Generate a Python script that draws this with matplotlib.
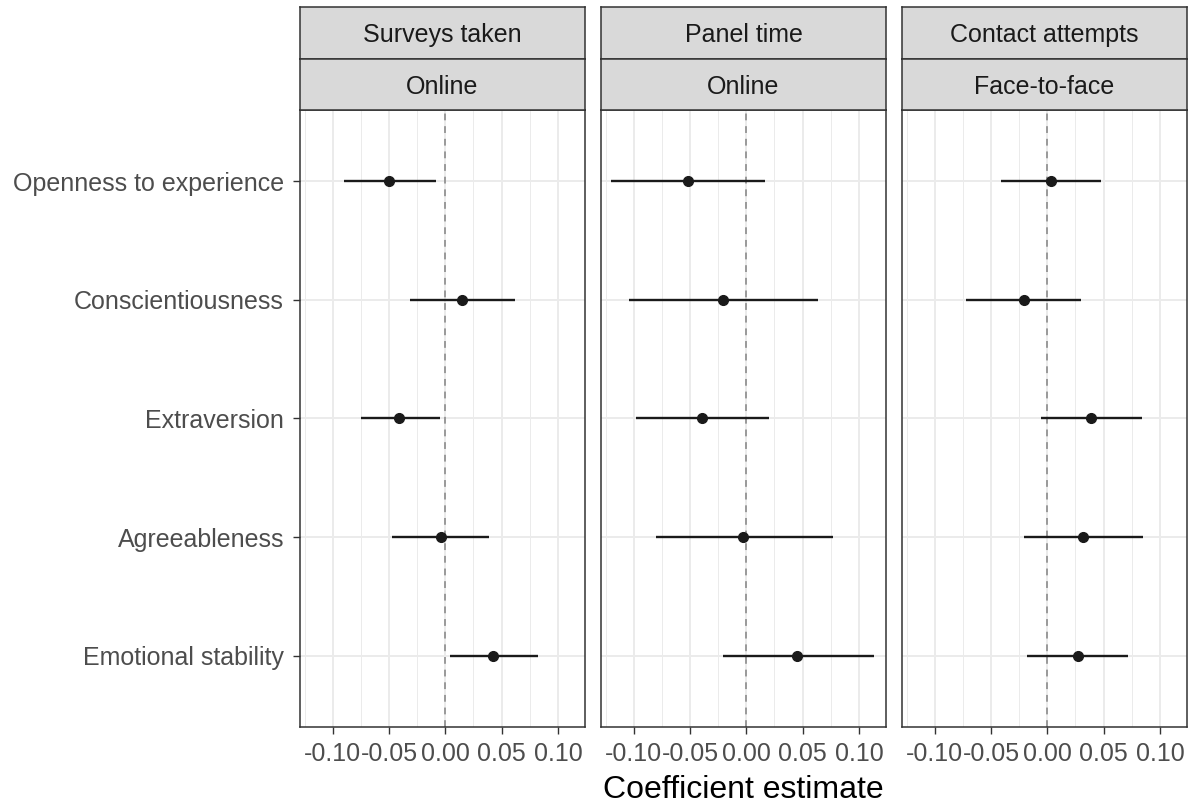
import matplotlib
matplotlib.use("Agg")
import matplotlib.pyplot as plt
from matplotlib.ticker import FixedLocator
from matplotlib.transforms import offset_copy

plt.rcParams["font.family"] = ["Liberation Sans", "DejaVu Sans"]

traits = ["Openness to experience", "Conscientiousness", "Extraversion",
          "Agreeableness", "Emotional stability"]

facet_top = ["Surveys taken", "Panel time", "Contact attempts"]
facet_bottom = ["Online", "Online", "Face-to-face"]

# estimates and 95% CI per panel, in trait order
est_surveys = [-0.050, 0.015, -0.041, -0.004, 0.042]
lo_surveys = [-0.090, -0.031, -0.075, -0.047, 0.004]
hi_surveys = [-0.008, 0.062, -0.005, 0.039, 0.082]

est_panel = [-0.052, -0.021, -0.039, -0.003, 0.045]
lo_panel = [-0.120, -0.104, -0.098, -0.080, -0.021]
hi_panel = [0.017, 0.064, 0.020, 0.077, 0.113]

est_contact = [0.003, -0.021, 0.039, 0.032, 0.027]
lo_contact = [-0.041, -0.072, -0.006, -0.021, -0.018]
hi_contact = [0.048, 0.030, 0.084, 0.085, 0.072]

estimates = [est_surveys, est_panel, est_contact]
lows = [lo_surveys, lo_panel, lo_contact]
highs = [hi_surveys, hi_panel, hi_contact]

xticks = [-0.10, -0.05, 0.00, 0.05, 0.10]
xlabels = ["-0.10", "-0.05", "0.00", "0.05", "0.10"]

W, H = 1196, 807
fig = plt.figure(figsize=(W / 100, H / 100), dpi=100)

panel_left = [300, 601, 902]
panel_w = 285
panel_top, panel_bottom = 110, 727
strip_top = 7
strip_h = (panel_top - strip_top) / 2
border = "#333333"
fs = 18

for i in range(3):
    x0 = panel_left[i]
    ax = fig.add_axes([x0 / W, 1 - panel_bottom / H, panel_w / W,
                       (panel_bottom - panel_top) / H])
    ypos = list(range(1, len(traits) + 1))
    ax.set_xlim(-0.129, 0.124)
    ax.set_ylim(5.6, 0.4)

    ax.xaxis.set_major_locator(FixedLocator(xticks))
    ax.xaxis.set_minor_locator(FixedLocator([-0.125, -0.075, -0.025, 0.025, 0.075]))
    ax.grid(which="major", color="#EBEBEB", linewidth=1.4)
    ax.grid(which="minor", axis="x", color="#EBEBEB", linewidth=0.7)
    ax.set_axisbelow(True)

    ax.axvline(0, color="#999999", linestyle=(0, (3.5, 3)), linewidth=1.4, zorder=2)
    ax.hlines(ypos, lows[i], highs[i], color="#1A1A1A", linewidth=1.7, zorder=3)
    ax.plot(estimates[i], ypos, "o", color="#1A1A1A", markersize=7, zorder=4)

    ax.set_xticks(xticks)
    ax.set_xticklabels(xlabels, fontsize=fs, color="#4D4D4D")
    ax.set_yticks(ypos)
    ax.tick_params(which="major", length=5, color=border, width=1)
    ax.tick_params(axis="x", pad=6)
    ax.tick_params(axis="y", pad=6.5)
    ax.tick_params(which="minor", length=0)
    if i == 0:
        ax.set_yticklabels(traits, fontsize=fs, color="#4D4D4D")
    else:
        # inner panels share the y axis: no labels, no tick marks
        ax.set_yticklabels([])
        ax.tick_params(axis="y", which="both", length=0)
    for s in ax.spines.values():
        s.set_color(border)
        s.set_linewidth(1.1)

    # two rows of strip labels
    for j, label in enumerate([facet_top[i], facet_bottom[i]]):
        top = strip_top + j * strip_h
        sax = fig.add_axes([x0 / W, 1 - (top + strip_h) / H, panel_w / W, strip_h / H])
        sax.set_facecolor("#D9D9D9")
        sax.set_xticks([])
        sax.set_yticks([])
        for s in sax.spines.values():
            s.set_color(border)
            s.set_linewidth(1.1)
        tr = offset_copy(sax.transAxes, fig=fig, y=-7, units="points")
        sax.text(0.5, 0.5, label, ha="center", va="baseline", fontsize=fs,
                 color="#1A1A1A", transform=tr)

fig.text((panel_left[1] + panel_w / 2) / W, 1 - 790 / H, "Coefficient estimate",
         ha="center", va="center", fontsize=23, color="black")

fig.savefig("out.png", dpi=100)
